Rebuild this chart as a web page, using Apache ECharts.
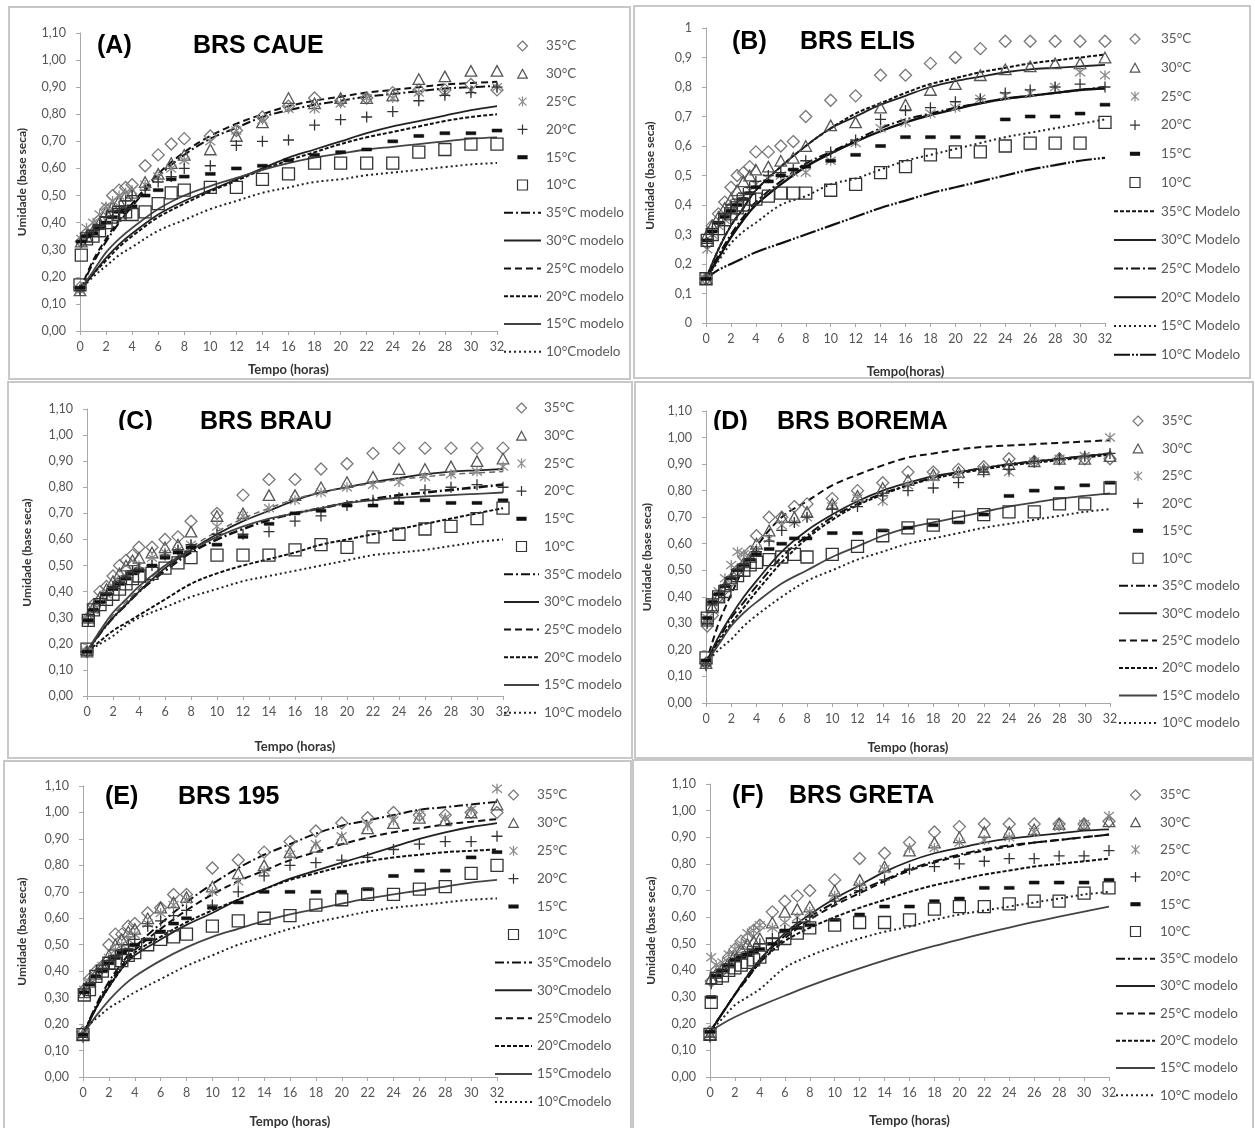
<!DOCTYPE html>
<html><head><meta charset="utf-8">
<script src="https://cdn.jsdelivr.net/npm/echarts@6/dist/echarts.min.js"></script>
<style>html,body{margin:0;padding:0;background:#fff}#c{width:1255px;height:1128px}</style>
</head><body><div id="c"></div>
<script>
// ---------- DATA ----------
const timesExp = [0, 0.1, 0.5, 1, 1.5, 2, 2.5, 3, 3.5, 4, 5, 6, 7, 8, 10, 12, 14, 16, 18, 20, 22, 24, 26, 28, 30, 32];
const timesModel = [0, 1, 2, 3, 4, 6, 8, 10, 12, 14, 16, 18, 20, 22, 24, 26, 28, 30, 32];
const tempLabels = ['35°C', '30°C', '25°C', '20°C', '15°C', '10°C'];
const xTickLabels = [0, 2, 4, 6, 8, 10, 12, 14, 16, 18, 20, 22, 24, 26, 28, 30, 32];

// (A) BRS CAUE
const caue35 = [0.16,0.33,0.36,0.38,0.41,0.45,0.50,0.52,0.53,0.54,0.61,0.65,0.69,0.71,0.72,0.74,0.79,0.83,0.86,0.85,0.86,0.88,0.89,0.89,0.91,0.89];
const caue30 = [0.15,0.33,0.35,0.37,0.40,0.44,0.46,0.48,0.50,0.51,0.55,0.58,0.62,0.65,0.67,0.72,0.77,0.86,0.84,0.86,0.86,0.87,0.93,0.94,0.96,0.96];
const caue25 = [0.15,0.34,0.38,0.40,0.43,0.46,0.48,0.50,0.51,0.52,0.54,0.57,0.60,0.63,0.70,0.74,0.78,0.82,0.82,0.84,0.86,0.86,0.88,0.88,0.89,0.90];
const caue20 = [0.15,0.33,0.35,0.37,0.39,0.42,0.44,0.46,0.48,0.50,0.52,0.55,0.57,0.60,0.61,0.685,0.70,0.705,0.76,0.78,0.79,0.81,0.85,0.87,0.88,0.90];
const caue15 = [0.16,0.33,0.35,0.36,0.38,0.40,0.42,0.44,0.45,0.46,0.50,0.52,0.56,0.57,0.58,0.60,0.61,0.63,0.65,0.66,0.67,0.70,0.72,0.73,0.73,0.74];
const caue10 = [0.17,0.28,0.34,0.35,0.37,0.40,0.42,0.43,0.44,0.43,0.44,0.47,0.51,0.52,0.53,0.53,0.56,0.58,0.62,0.62,0.62,0.62,0.66,0.67,0.69,0.69];
const caueM35 = [0.15,0.25,0.33,0.40,0.46,0.57,0.65,0.71,0.75,0.79,0.815,0.835,0.85,0.865,0.875,0.885,0.895,0.90,0.905];
const caueM30 = [0.15,0.21,0.27,0.32,0.36,0.43,0.48,0.52,0.56,0.60,0.64,0.67,0.70,0.73,0.755,0.775,0.795,0.815,0.83];
const caueM25 = [0.15,0.26,0.34,0.41,0.47,0.58,0.66,0.72,0.765,0.80,0.83,0.85,0.865,0.88,0.89,0.90,0.91,0.915,0.92];
const caueM20 = [0.15,0.21,0.26,0.31,0.35,0.42,0.47,0.515,0.555,0.595,0.63,0.66,0.69,0.715,0.735,0.755,0.775,0.79,0.80];
const caueM15 = [0.15,0.22,0.29,0.34,0.38,0.45,0.50,0.535,0.565,0.595,0.62,0.64,0.655,0.67,0.68,0.69,0.70,0.71,0.715];
const caueM10 = [0.15,0.20,0.24,0.28,0.31,0.37,0.41,0.45,0.48,0.51,0.53,0.55,0.56,0.575,0.585,0.595,0.605,0.615,0.62];

// (B) BRS ELIS
const elis35 = [0.15,0.27,0.33,0.37,0.41,0.46,0.50,0.51,0.53,0.58,0.58,0.60,0.615,0.70,0.755,0.77,0.84,0.84,0.88,0.90,0.93,0.955,0.955,0.955,0.955,0.955];
const elis30 = [0.15,0.30,0.33,0.36,0.39,0.42,0.45,0.48,0.50,0.52,0.53,0.55,0.56,0.60,0.67,0.68,0.73,0.74,0.79,0.81,0.84,0.86,0.87,0.88,0.88,0.90];
const elis25 = [0.15,0.25,0.30,0.33,0.35,0.38,0.41,0.43,0.45,0.47,0.49,0.50,0.51,0.51,0.55,0.61,0.66,0.68,0.71,0.73,0.76,0.77,0.78,0.80,0.85,0.84];
const elis20 = [0.15,0.27,0.31,0.34,0.37,0.40,0.42,0.44,0.46,0.48,0.50,0.51,0.52,0.55,0.58,0.62,0.69,0.72,0.73,0.75,0.76,0.78,0.79,0.80,0.81,0.80];
const elis15 = [0.15,0.28,0.31,0.34,0.36,0.38,0.40,0.42,0.44,0.46,0.48,0.50,0.52,0.53,0.55,0.57,0.60,0.63,0.63,0.63,0.63,0.69,0.70,0.70,0.71,0.74];
const elis10 = [0.15,0.28,0.30,0.32,0.35,0.37,0.39,0.40,0.42,0.42,0.43,0.44,0.44,0.44,0.45,0.47,0.51,0.53,0.57,0.58,0.58,0.60,0.61,0.61,0.61,0.68];
const elisM35 = [0.15,0.25,0.33,0.39,0.45,0.53,0.60,0.66,0.71,0.745,0.78,0.81,0.83,0.85,0.865,0.88,0.89,0.90,0.91];
const elisM30 = [0.15,0.25,0.33,0.39,0.45,0.53,0.60,0.66,0.70,0.74,0.77,0.80,0.82,0.835,0.85,0.86,0.865,0.87,0.875];
const elisM25 = [0.15,0.23,0.30,0.36,0.41,0.48,0.54,0.58,0.62,0.66,0.69,0.71,0.73,0.745,0.76,0.77,0.78,0.79,0.80];
const elisM20 = [0.15,0.22,0.29,0.35,0.40,0.47,0.53,0.575,0.615,0.65,0.68,0.705,0.725,0.745,0.76,0.77,0.78,0.79,0.795];
const elisM15 = [0.15,0.21,0.27,0.31,0.34,0.40,0.43,0.47,0.49,0.52,0.55,0.57,0.59,0.61,0.63,0.645,0.66,0.675,0.69];
const elisM10 = [0.15,0.18,0.20,0.22,0.24,0.27,0.30,0.33,0.36,0.39,0.415,0.44,0.46,0.48,0.50,0.52,0.535,0.55,0.56];

// (C) BRS BRAU
const brau35 = [0.17,0.30,0.35,0.40,0.42,0.46,0.50,0.52,0.54,0.57,0.57,0.60,0.61,0.67,0.70,0.77,0.83,0.83,0.87,0.89,0.93,0.95,0.95,0.95,0.95,0.95];
const brau30 = [0.17,0.30,0.34,0.38,0.41,0.44,0.47,0.50,0.52,0.53,0.55,0.57,0.58,0.63,0.69,0.70,0.77,0.77,0.80,0.82,0.84,0.87,0.87,0.88,0.90,0.91];
const brau25 = [0.17,0.29,0.33,0.36,0.39,0.42,0.44,0.46,0.48,0.50,0.53,0.55,0.56,0.58,0.65,0.69,0.72,0.75,0.78,0.80,0.81,0.82,0.84,0.85,0.86,0.88];
const brau20 = [0.17,0.29,0.33,0.36,0.39,0.42,0.44,0.46,0.48,0.49,0.50,0.54,0.56,0.58,0.62,0.62,0.63,0.67,0.69,0.73,0.75,0.76,0.79,0.80,0.81,0.80];
const brau15 = [0.17,0.29,0.33,0.36,0.39,0.41,0.43,0.45,0.47,0.48,0.50,0.53,0.55,0.57,0.58,0.61,0.66,0.70,0.71,0.73,0.73,0.74,0.75,0.74,0.74,0.75];
const brau10 = [0.18,0.29,0.33,0.35,0.37,0.39,0.41,0.43,0.45,0.46,0.47,0.49,0.51,0.53,0.54,0.54,0.54,0.56,0.58,0.57,0.61,0.62,0.64,0.65,0.68,0.72];
const brauM35 = [0.17,0.24,0.30,0.35,0.40,0.48,0.55,0.60,0.64,0.675,0.70,0.72,0.74,0.755,0.77,0.78,0.79,0.80,0.81];
const brauM30 = [0.17,0.24,0.30,0.35,0.40,0.49,0.56,0.62,0.67,0.71,0.75,0.78,0.80,0.82,0.835,0.85,0.86,0.865,0.87];
const brauM25 = [0.17,0.25,0.31,0.36,0.41,0.50,0.57,0.63,0.68,0.72,0.755,0.78,0.80,0.815,0.83,0.84,0.85,0.855,0.86];
const brauM20 = [0.17,0.21,0.25,0.28,0.31,0.37,0.43,0.47,0.50,0.525,0.55,0.58,0.60,0.62,0.64,0.66,0.68,0.70,0.72];
const brauM15 = [0.17,0.25,0.32,0.37,0.42,0.50,0.56,0.61,0.65,0.68,0.70,0.72,0.74,0.75,0.76,0.765,0.77,0.775,0.78];
const brauM10 = [0.17,0.20,0.23,0.27,0.30,0.34,0.38,0.41,0.44,0.46,0.48,0.50,0.52,0.54,0.55,0.56,0.575,0.59,0.60];

// (D) BRS BOREMA
const borema35 = [0.15,0.29,0.33,0.40,0.43,0.46,0.50,0.55,0.57,0.63,0.70,0.70,0.74,0.75,0.77,0.80,0.83,0.87,0.87,0.88,0.89,0.92,0.91,0.92,0.92,0.92];
const borema30 = [0.15,0.31,0.36,0.40,0.44,0.47,0.50,0.53,0.55,0.60,0.65,0.70,0.70,0.72,0.75,0.78,0.81,0.84,0.86,0.87,0.88,0.90,0.91,0.92,0.92,0.93];
const borema25 = [0.15,0.32,0.38,0.42,0.47,0.52,0.57,0.56,0.55,0.58,0.62,0.67,0.68,0.70,0.74,0.77,0.76,0.82,0.85,0.86,0.88,0.87,0.91,0.92,0.93,1.00];
const borema20 = [0.14,0.30,0.37,0.41,0.44,0.47,0.50,0.52,0.54,0.57,0.61,0.65,0.68,0.70,0.73,0.74,0.78,0.80,0.81,0.83,0.87,0.88,0.91,0.92,0.93,0.94];
const borema15 = [0.16,0.32,0.38,0.41,0.44,0.47,0.50,0.52,0.54,0.56,0.58,0.60,0.62,0.62,0.64,0.64,0.65,0.66,0.67,0.68,0.71,0.78,0.80,0.81,0.82,0.83];
const borema10 = [0.17,0.32,0.37,0.40,0.42,0.45,0.48,0.50,0.52,0.53,0.54,0.55,0.56,0.55,0.56,0.59,0.63,0.66,0.67,0.70,0.71,0.72,0.72,0.75,0.75,0.81];
const boremaM35 = [0.15,0.24,0.32,0.38,0.44,0.55,0.63,0.70,0.75,0.79,0.82,0.85,0.87,0.885,0.90,0.91,0.92,0.93,0.94];
const boremaM30 = [0.15,0.25,0.33,0.40,0.46,0.57,0.65,0.71,0.76,0.80,0.83,0.855,0.87,0.885,0.90,0.91,0.92,0.93,0.94];
const boremaM25 = [0.15,0.30,0.41,0.51,0.59,0.70,0.76,0.82,0.86,0.895,0.925,0.94,0.955,0.965,0.97,0.975,0.98,0.985,0.99];
const boremaM20 = [0.15,0.23,0.30,0.36,0.42,0.53,0.62,0.69,0.745,0.785,0.82,0.845,0.865,0.88,0.895,0.905,0.915,0.925,0.935];
const boremaM15 = [0.15,0.22,0.29,0.34,0.38,0.45,0.50,0.55,0.59,0.63,0.66,0.68,0.70,0.72,0.74,0.755,0.77,0.78,0.79];
const boremaM10 = [0.15,0.20,0.24,0.29,0.33,0.40,0.46,0.50,0.54,0.57,0.60,0.62,0.64,0.66,0.675,0.69,0.705,0.72,0.73];

// (E) BRS 195
const b195_35 = [0.17,0.33,0.37,0.40,0.42,0.50,0.54,0.54,0.57,0.58,0.62,0.64,0.69,0.69,0.79,0.82,0.85,0.89,0.93,0.96,0.98,1.00,0.99,0.99,1.00,1.00];
const b195_30 = [0.16,0.32,0.36,0.39,0.42,0.46,0.50,0.52,0.55,0.56,0.60,0.64,0.66,0.68,0.72,0.77,0.80,0.85,0.87,0.90,0.94,0.96,0.98,0.97,1.00,1.03];
const b195_25 = [0.16,0.33,0.36,0.39,0.42,0.45,0.48,0.50,0.52,0.54,0.58,0.62,0.65,0.67,0.70,0.74,0.78,0.84,0.88,0.91,0.95,0.97,0.99,0.98,1.01,1.09];
const b195_20 = [0.15,0.32,0.35,0.38,0.41,0.44,0.46,0.48,0.50,0.52,0.57,0.59,0.61,0.63,0.65,0.70,0.76,0.80,0.81,0.82,0.83,0.86,0.88,0.89,0.89,0.91];
const b195_15 = [0.16,0.32,0.35,0.38,0.40,0.43,0.45,0.47,0.48,0.50,0.52,0.55,0.58,0.60,0.64,0.66,0.70,0.70,0.70,0.70,0.71,0.76,0.78,0.78,0.83,0.85];
const b195_10 = [0.16,0.31,0.33,0.38,0.40,0.43,0.43,0.44,0.46,0.47,0.50,0.52,0.53,0.54,0.57,0.59,0.60,0.61,0.65,0.67,0.69,0.69,0.71,0.72,0.77,0.80];
const b195_M35 = [0.16,0.27,0.36,0.43,0.49,0.58,0.66,0.73,0.79,0.84,0.88,0.92,0.95,0.97,0.99,1.01,1.02,1.03,1.04];
const b195_M30 = [0.16,0.26,0.34,0.41,0.46,0.52,0.575,0.62,0.67,0.71,0.75,0.78,0.81,0.84,0.87,0.90,0.925,0.945,0.96];
const b195_M25 = [0.16,0.26,0.35,0.42,0.48,0.56,0.63,0.69,0.74,0.78,0.82,0.85,0.88,0.905,0.925,0.94,0.955,0.965,0.975];
const b195_M20 = [0.16,0.26,0.34,0.41,0.47,0.53,0.585,0.63,0.67,0.71,0.745,0.77,0.795,0.815,0.83,0.84,0.85,0.855,0.86];
const b195_M15 = [0.16,0.23,0.29,0.34,0.38,0.44,0.49,0.53,0.56,0.59,0.615,0.635,0.655,0.675,0.69,0.705,0.72,0.735,0.745];
const b195_M10 = [0.18,0.22,0.26,0.29,0.32,0.37,0.42,0.46,0.50,0.53,0.56,0.585,0.605,0.625,0.64,0.65,0.66,0.67,0.675];

// (F) BRS GRETA
const greta35 = [0.17,0.36,0.40,0.40,0.45,0.48,0.51,0.52,0.55,0.57,0.62,0.66,0.68,0.70,0.74,0.82,0.84,0.88,0.92,0.94,0.95,0.95,0.95,0.95,0.95,0.96];
const greta30 = [0.16,0.37,0.39,0.41,0.43,0.46,0.48,0.50,0.51,0.52,0.58,0.62,0.63,0.64,0.70,0.74,0.79,0.85,0.88,0.90,0.92,0.92,0.93,0.95,0.95,0.96];
const greta25 = [0.16,0.45,0.42,0.43,0.46,0.48,0.50,0.54,0.55,0.57,0.56,0.58,0.60,0.62,0.68,0.72,0.78,0.86,0.86,0.88,0.89,0.90,0.92,0.94,0.95,0.98];
const greta20 = [0.15,0.35,0.38,0.40,0.42,0.44,0.45,0.47,0.48,0.50,0.52,0.55,0.58,0.60,0.66,0.70,0.74,0.78,0.79,0.80,0.81,0.82,0.82,0.83,0.83,0.85];
const greta15 = [0.17,0.30,0.38,0.40,0.42,0.44,0.45,0.46,0.47,0.48,0.50,0.55,0.56,0.57,0.59,0.61,0.64,0.64,0.66,0.67,0.71,0.71,0.73,0.73,0.73,0.74];
const greta10 = [0.16,0.28,0.37,0.38,0.40,0.41,0.42,0.43,0.44,0.45,0.50,0.52,0.54,0.56,0.57,0.58,0.58,0.59,0.63,0.64,0.64,0.65,0.66,0.66,0.69,0.71];
const gretaM35 = [0.17,0.24,0.31,0.38,0.44,0.53,0.60,0.655,0.70,0.74,0.78,0.81,0.835,0.855,0.87,0.88,0.89,0.90,0.91];
const gretaM30 = [0.17,0.24,0.31,0.38,0.44,0.54,0.61,0.67,0.72,0.77,0.81,0.84,0.86,0.88,0.895,0.905,0.915,0.925,0.93];
const gretaM25 = [0.17,0.24,0.31,0.37,0.43,0.52,0.59,0.645,0.69,0.735,0.775,0.805,0.83,0.85,0.865,0.88,0.89,0.90,0.91];
const gretaM20 = [0.17,0.24,0.31,0.37,0.43,0.51,0.56,0.60,0.635,0.665,0.695,0.72,0.74,0.76,0.775,0.79,0.80,0.81,0.82];
const gretaM15 = [0.17,0.20,0.225,0.247,0.267,0.305,0.342,0.376,0.408,0.438,0.466,0.492,0.516,0.539,0.561,0.582,0.602,0.621,0.64];
const gretaM10 = [0.17,0.22,0.27,0.30,0.33,0.41,0.455,0.49,0.52,0.545,0.565,0.59,0.61,0.625,0.64,0.655,0.67,0.685,0.695];

// ---------- STYLE / LAYOUT ----------
const SYM = {
  diamond: 'path://M5,0L10,5L5,10L0,5Z',
  triangle: 'path://M0,0M10,10M5,0.6L9.8,9.4L0.2,9.4Z',
  asterisk: 'path://M1,1L9,9M9,1L1,9M5,0L5,10',
  plus: 'path://M5,0L5,10M0,5L10,5',
  dash: 'path://M0,0M10,10M0.5,3.6L9.5,3.6L9.5,6.4L0.5,6.4Z',
  square: 'path://M0,0L10,0L10,10L0,10Z'
};
const markerDefs = [
  {sym: SYM.diamond, size: 12, color: '#777'},
  {sym: SYM.triangle, size: 12, color: '#555'},
  {sym: SYM.asterisk, size: 10, color: '#8a8a8a'},
  {sym: SYM.plus, size: 11, color: '#333'},
  {sym: SYM.dash, size: 11, color: '#111', filled: true},
  {sym: SYM.square, size: 12, color: '#333'}
];
const LS = {
  dashDot: {type: [9, 3, 2, 3], width: 2, color: '#111'},
  solid: {type: 'solid', width: 1.8, color: '#222'},
  solidGray: {type: 'solid', width: 1.8, color: '#444'},
  dashed: {type: [7, 4], width: 2, color: '#111'},
  shortDash: {type: [4, 2], width: 2, color: '#111'},
  dotted: {type: [2, 3], width: 2, color: '#222'},
  thick: {type: 'solid', width: 2.4, color: '#111'},
  lightDash: {type: [6, 4], width: 1.5, color: '#666'},
  dashDotDot: {type: [16, 2, 2, 2, 2, 2], width: 2.2, color: '#111'},
  thickDashDot: {type: [9, 3, 2, 3], width: 2.6, color: '#111'}
};

const panels = [
  {label: '(A)', title: 'BRS CAUE', labelPos: [97, 34], titlePos: [193, 34],
   grid: [80, 33, 417, 298], yMax: 1.1, xName: 'Tempo (horas)', xGap: 32, yGap: 52,
   exp: [caue35, caue30, caue25, caue20, caue15, caue10],
   model: [caueM35, caueM30, caueM25, caueM20, caueM15, caueM10],
   modelNames: ['35°C modelo', '30°C modelo', '25°C modelo', '20°C modelo', '15°C modelo', '10°Cmodelo'],
   modelStyles: [LS.dashDot, LS.solid, LS.dashed, LS.shortDash, LS.solidGray, LS.dotted],
   legend: {left: 503, top: 39, w: 37, gap: 13.8}},
  {label: '(B)', title: 'BRS ELIS', labelPos: [732, 30], titlePos: [800, 30],
   grid: [706, 28, 399, 295], yMax: 1.0, xName: 'Tempo(horas)', xGap: 42, yGap: 50,
   exp: [elis35, elis30, elis25, elis20, elis15, elis10],
   model: [elisM35, elisM30, elisM25, elisM20, elisM15, elisM10],
   modelNames: ['35°C Modelo', '30°C Modelo', '25°C Modelo', '20°C Modelo', '15°C Modelo', '10°C Modelo'],
   modelStyles: [LS.shortDash, LS.solid, LS.dashDot, LS.thick, LS.dotted, LS.dashDotDot],
   legend: {left: 1113, top: 32, w: 42, gap: 14.7}},
  {label: '(C)', title: 'BRS BRAU', labelPos: [118, 410], titlePos: [200, 410],
   grid: [87, 409, 416, 287], yMax: 1.1, xName: 'Tempo (horas)', xGap: 44, yGap: 54,
   exp: [brau35, brau30, brau25, brau20, brau15, brau10],
   model: [brauM35, brauM30, brauM25, brauM20, brauM15, brauM10],
   modelNames: ['35°C modelo', '30°C modelo', '25°C modelo', '20°C modelo', '15°C modelo', '10°C modelo'],
   modelStyles: [LS.thickDashDot, LS.solid, LS.lightDash, LS.shortDash, LS.solidGray, LS.dotted],
   legend: {left: 503, top: 401, w: 35, gap: 13.7}},
  {label: '(D)', title: 'BRS BOREMA', labelPos: [713, 410], titlePos: [777, 410],
   grid: [706, 411, 404, 292], yMax: 1.1, xName: 'Tempo (horas)', xGap: 38, yGap: 53,
   exp: [borema35, borema30, borema25, borema20, borema15, borema10],
   model: [boremaM35, boremaM30, boremaM25, boremaM20, boremaM15, boremaM10],
   modelNames: ['35°C modelo', '30°C modelo', '25°C modelo', '20°C modelo', '15°C modelo', '10°C modelo'],
   modelStyles: [LS.dashDot, LS.solid, LS.dashed, LS.shortDash, LS.solidGray, LS.dotted],
   legend: {left: 1118, top: 414, w: 38, gap: 13.45}},
  {label: '(E)', title: 'BRS 195', labelPos: [105, 785], titlePos: [178, 785],
   grid: [83, 786, 414, 291], yMax: 1.1, xName: 'Tempo (horas)', xGap: 38, yGap: 55,
   exp: [b195_35, b195_30, b195_25, b195_20, b195_15, b195_10],
   model: [b195_M35, b195_M30, b195_M25, b195_M20, b195_M15, b195_M10],
   modelNames: ['35°Cmodelo', '30°Cmodelo', '25°Cmodelo', '20°Cmodelo', '15°Cmodelo', '10°Cmodelo'],
   modelStyles: [LS.dashDot, LS.solid, LS.dashed, LS.shortDash, LS.solidGray, LS.dotted],
   legend: {left: 494, top: 788, w: 37, gap: 13.9}},
  {label: '(F)', title: 'BRS GRETA', labelPos: [732, 784], titlePos: [789, 784],
   grid: [710, 784, 399, 293], yMax: 1.1, xName: 'Tempo (horas)', xGap: 37, yGap: 53,
   exp: [greta35, greta30, greta25, greta20, greta15, greta10],
   model: [gretaM35, gretaM30, gretaM25, gretaM20, gretaM15, gretaM10],
   modelNames: ['35°C modelo', '30°C modelo', '25°C modelo', '20°C modelo', '15°C modelo', '10°C modelo'],
   modelStyles: [LS.dashDot, LS.solid, LS.dashed, LS.shortDash, LS.solidGray, LS.dotted],
   legend: {left: 1115, top: 788, w: 39, gap: 13.3}}
];

const FONT = 'Lato';
const axisGray = '#a8a8a8';
const grids = [], xAxes = [], yAxes = [], series = [], legends = [], titles = [];

panels.forEach((p, i) => {
  grids.push({left: p.grid[0], top: p.grid[1], width: p.grid[2], height: p.grid[3],
    containLabel: false, outerBoundsMode: 'none'});
  xAxes.push({
    type: 'value', gridIndex: i, min: xTickLabels[0], max: xTickLabels[xTickLabels.length - 1], interval: 2,
    name: p.xName, nameLocation: 'middle', nameGap: p.xGap,
    nameTextStyle: {fontFamily: FONT, fontWeight: 'bold', fontSize: 13, color: '#333'},
    axisLine: {show: true, onZero: false, lineStyle: {color: axisGray, width: 1}},
    axisTick: {show: true, length: 4, lineStyle: {color: axisGray}},
    axisLabel: {margin: 9, fontFamily: FONT, fontSize: 12.5, color: '#555'},
    splitLine: {show: false}
  });
  const isB = p.yMax === 1.0;
  yAxes.push({
    type: 'value', gridIndex: i, min: 0, max: p.yMax, interval: 0.1,
    name: 'Umidade (base seca)', nameLocation: 'middle', nameGap: p.yGap,
    nameTextStyle: {fontFamily: FONT, fontWeight: 'bold', fontSize: 12, color: '#333'},
    axisLine: {show: true, onZero: false, lineStyle: {color: axisGray, width: 1}},
    axisTick: {show: true, length: 4, lineStyle: {color: axisGray}},
    axisLabel: {margin: 14, fontFamily: FONT, fontSize: 12.5, color: '#555',
      formatter: v => {
        if (isB) {
          if (Math.abs(v) < 1e-9) return '0';
          if (Math.abs(v - 1) < 1e-9) return '1';
          return v.toFixed(1).replace('.', ',');
        }
        return v.toFixed(2).replace('.', ',');
      }},
    splitLine: {show: false}
  });
  p.model.forEach((vals, k) => {
    series.push({
      type: 'line', name: p.modelNames[k], xAxisIndex: i, yAxisIndex: i,
      data: timesModel.map((t, j) => [t, vals[j]]),
      symbol: 'none', smooth: 0.35, silent: true, z: 2,
      lineStyle: p.modelStyles[k], itemStyle: {color: 'rgba(0,0,0,0)', borderWidth: 0}
    });
  });
  p.exp.forEach((vals, k) => {
    const m = markerDefs[k];
    series.push({
      type: 'scatter', name: tempLabels[k], xAxisIndex: i, yAxisIndex: i,
      data: timesExp.map((t, j) => [t, vals[j]]),
      symbol: m.sym, symbolSize: m.size, silent: true, z: 3,
      itemStyle: m.filled ? {color: m.color, borderColor: m.color, borderWidth: 0.5, opacity: 1}
                          : {color: 'rgba(0,0,0,0)', borderColor: m.color, borderWidth: 1.3, opacity: 1}
    });
  });
  legends.push({
    orient: 'vertical', left: p.legend.left, top: p.legend.top, padding: 0,
    itemWidth: p.legend.w, itemHeight: 10, itemGap: p.legend.gap, selectedMode: false,
    textStyle: {fontFamily: FONT, fontSize: 13.5, color: '#5a5a5a', lineHeight: 14},
    itemStyle: {borderWidth: 1.2},
    data: tempLabels.map(n => ({name: n}))
      .concat(p.modelNames.map(n => ({name: n, itemStyle: {opacity: 0, color: 'rgba(0,0,0,0)', borderWidth: 0}})))
  });
  const tStyle = {fontFamily: 'Liberation Sans', fontWeight: 'bold', fontSize: 25, color: '#000'};
  titles.push({text: p.label, left: p.labelPos[0], top: p.labelPos[1], padding: 0, textStyle: tStyle});
  titles.push({text: p.title, left: p.titlePos[0], top: p.titlePos[1], padding: 0, textStyle: tStyle});
});

const frame = (x, y, w, h) => ({type: 'rect', silent: true, z: 0,
  shape: {x, y, width: w, height: h}, style: {fill: 'none', stroke: '#c8c8c8', lineWidth: 2}});

const option = {
  backgroundColor: '#fff',
  animation: false,
  title: titles,
  grid: grids,
  xAxis: xAxes,
  yAxis: yAxes,
  legend: legends,
  series: series,
  graphic: [
    frame(9, 7, 621, 372),
    frame(634, 6, 616, 372),
    frame(8, 382, 624, 376),
    frame(635, 382, 618, 376),
    frame(4, 761, 627, 380),
    frame(633, 760, 620, 380),
    {type: 'rect', silent: true, z: 100, shape: {x: 110, y: 430, width: 240, height: 9}, style: {fill: '#fff'}},
    {type: 'rect', silent: true, z: 100, shape: {x: 710, y: 430, width: 260, height: 9}, style: {fill: '#fff'}}
  ]
};

const chart = echarts.init(document.getElementById('c'), null, {renderer: 'canvas'});
chart.setOption(option);
</script>
</body></html>
